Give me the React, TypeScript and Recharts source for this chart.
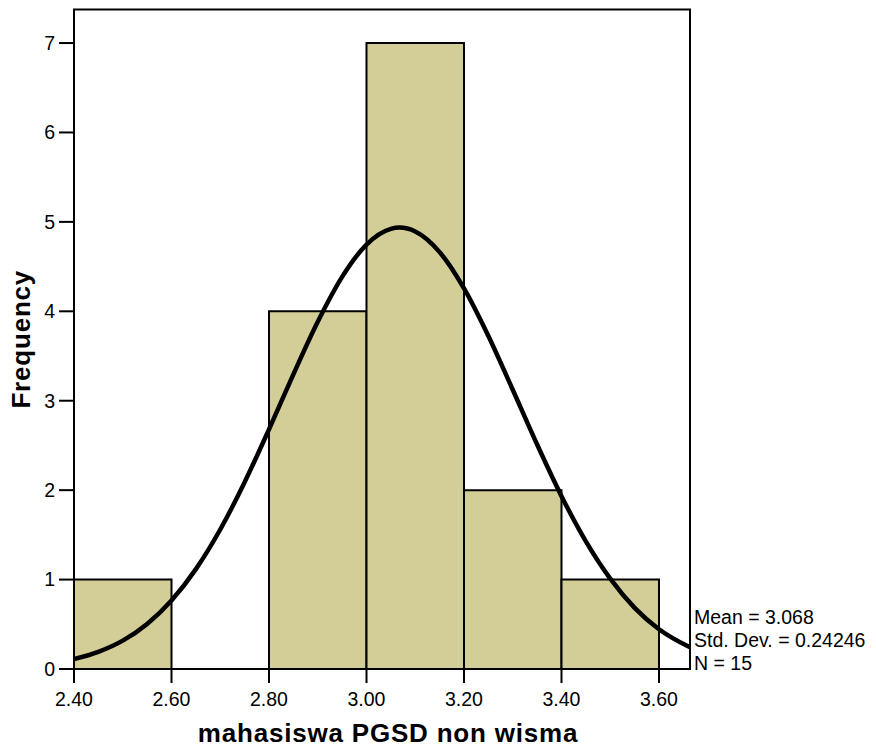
import { ComposedChart, Line, XAxis, YAxis, ReferenceArea } from 'recharts';

// histogram bins
const binStart = [2.4, 2.6, 2.8, 3.0, 3.2, 3.4];
const binEnd = [2.6, 2.8, 3.0, 3.2, 3.4, 3.6];
const frequency = [1, 0, 4, 7, 2, 1];

const xTicks = [2.4, 2.6, 2.8, 3.0, 3.2, 3.4, 3.6];
const yTicks = [0, 1, 2, 3, 4, 5, 6, 7];

// fitted normal curve
const curveX = [
  2.4, 2.45, 2.5, 2.55, 2.6, 2.65, 2.7, 2.75, 2.8, 2.85, 2.9, 2.95, 3.0, 3.05, 3.068,
  3.1, 3.15, 3.2, 3.25, 3.3, 3.35, 3.4, 3.45, 3.5, 3.55, 3.6, 3.6636,
];
const curveY = [
  0.111, 0.192, 0.317, 0.504, 0.766, 1.117, 1.56, 2.089, 2.68, 3.295, 3.883, 4.385, 4.746, 4.922, 4.936,
  4.893, 4.662, 4.256, 3.724, 3.123, 2.51, 1.933, 1.427, 1.01, 0.684, 0.445, 0.242,
];

const statLines = ['Mean = 3.068', 'Std. Dev. = 0.24246', 'N = 15'];
const xTitle = 'mahasiswa PGSD non wisma';
const yTitle = 'Frequency';

const xMin = 2.4;
const xMax = 3.6636;
const yMax = 7.375;

const curveData = curveX.map((x, i) => ({ x, y: curveY[i] }));

const font = '"Liberation Sans", Arial, Helvetica, sans-serif';

const XTitle = (props: any) => {
  const vb = props.viewBox;
  return (
    <text
      x={vb.x + vb.width / 2 + 6}
      y={vb.y + vb.height - 11}
      textAnchor="middle"
      fill="#000"
      style={{ fontSize: 26, fontWeight: 'bold', letterSpacing: 0.8, fontFamily: font }}
    >
      {xTitle}
    </text>
  );
};

const YTitle = (props: any) => {
  const vb = props.viewBox;
  const x = vb.x + 22;
  const y = vb.y + vb.height / 2;
  return (
    <g transform={`translate(${x}, ${y}) rotate(-90)`}>
      <text
        x={0}
        y={0}
        textAnchor="middle"
        fill="#000"
        style={{ fontSize: 26, fontWeight: 'bold', letterSpacing: 0.8, fontFamily: font }}
      >
        {yTitle}
      </text>
    </g>
  );
};

const Stats = (props: any) => {
  const vb = props.viewBox;
  const x = vb.x + vb.width + 4;
  const bottom = vb.y + vb.height;
  return (
    <text fill="#000" style={{ fontSize: 19.5, fontFamily: font }}>
      {statLines.map((s, i) => (
        <tspan key={s} x={x} y={bottom + 1 - (statLines.length - 1 - i) * 23}>
          {s}
        </tspan>
      ))}
    </text>
  );
};

export default function App() {
  return (
    <div style={{ width: 868, height: 745, fontFamily: font }}>
      <ComposedChart
        width={868}
        height={745}
        data={curveData}
        margin={{ top: 1.5, right: 186, left: 0, bottom: 0 }}
      >
        <XAxis
          dataKey="x"
          type="number"
          domain={[xMin, xMax]}
          allowDataOverflow
          ticks={xTicks}
          interval={0}
          tickFormatter={(v: number) => v.toFixed(2)}
          height={84}
          tickSize={14}
          tickMargin={9}
          axisLine={{ stroke: '#000', strokeWidth: 2 }}
          tickLine={{ stroke: '#000', strokeWidth: 2 }}
          tick={{ fill: '#000', fontSize: 19.5, fontFamily: font }}
          label={{ content: XTitle }}
        />
        <YAxis
          type="number"
          domain={[0, yMax]}
          allowDataOverflow
          ticks={yTicks}
          interval={0}
          width={66}
          tickSize={15}
          tickMargin={4}
          axisLine={{ stroke: '#000', strokeWidth: 2 }}
          tickLine={{ stroke: '#000', strokeWidth: 2 }}
          tick={{ fill: '#000', fontSize: 19.5, fontFamily: font }}
          label={{ content: YTitle }}
        />
        {frequency.map((f, i) =>
          f > 0 ? (
            <ReferenceArea
              key={i}
              x1={binStart[i]}
              x2={binEnd[i]}
              y1={0}
              y2={f}
              fill="#d3ce98"
              fillOpacity={1}
              stroke="#000"
              strokeWidth={2}
              ifOverflow="visible"
            />
          ) : null
        )}
        <ReferenceArea
          x1={xMin}
          x2={xMax}
          y1={0}
          y2={yMax}
          fill="none"
          stroke="#000"
          strokeWidth={2}
          ifOverflow="visible"
          label={{ content: Stats }}
        />
        <Line
          dataKey="y"
          type="monotone"
          stroke="#000"
          strokeWidth={4.5}
          dot={false}
          activeDot={false}
          isAnimationActive={false}
        />
      </ComposedChart>
    </div>
  );
}
